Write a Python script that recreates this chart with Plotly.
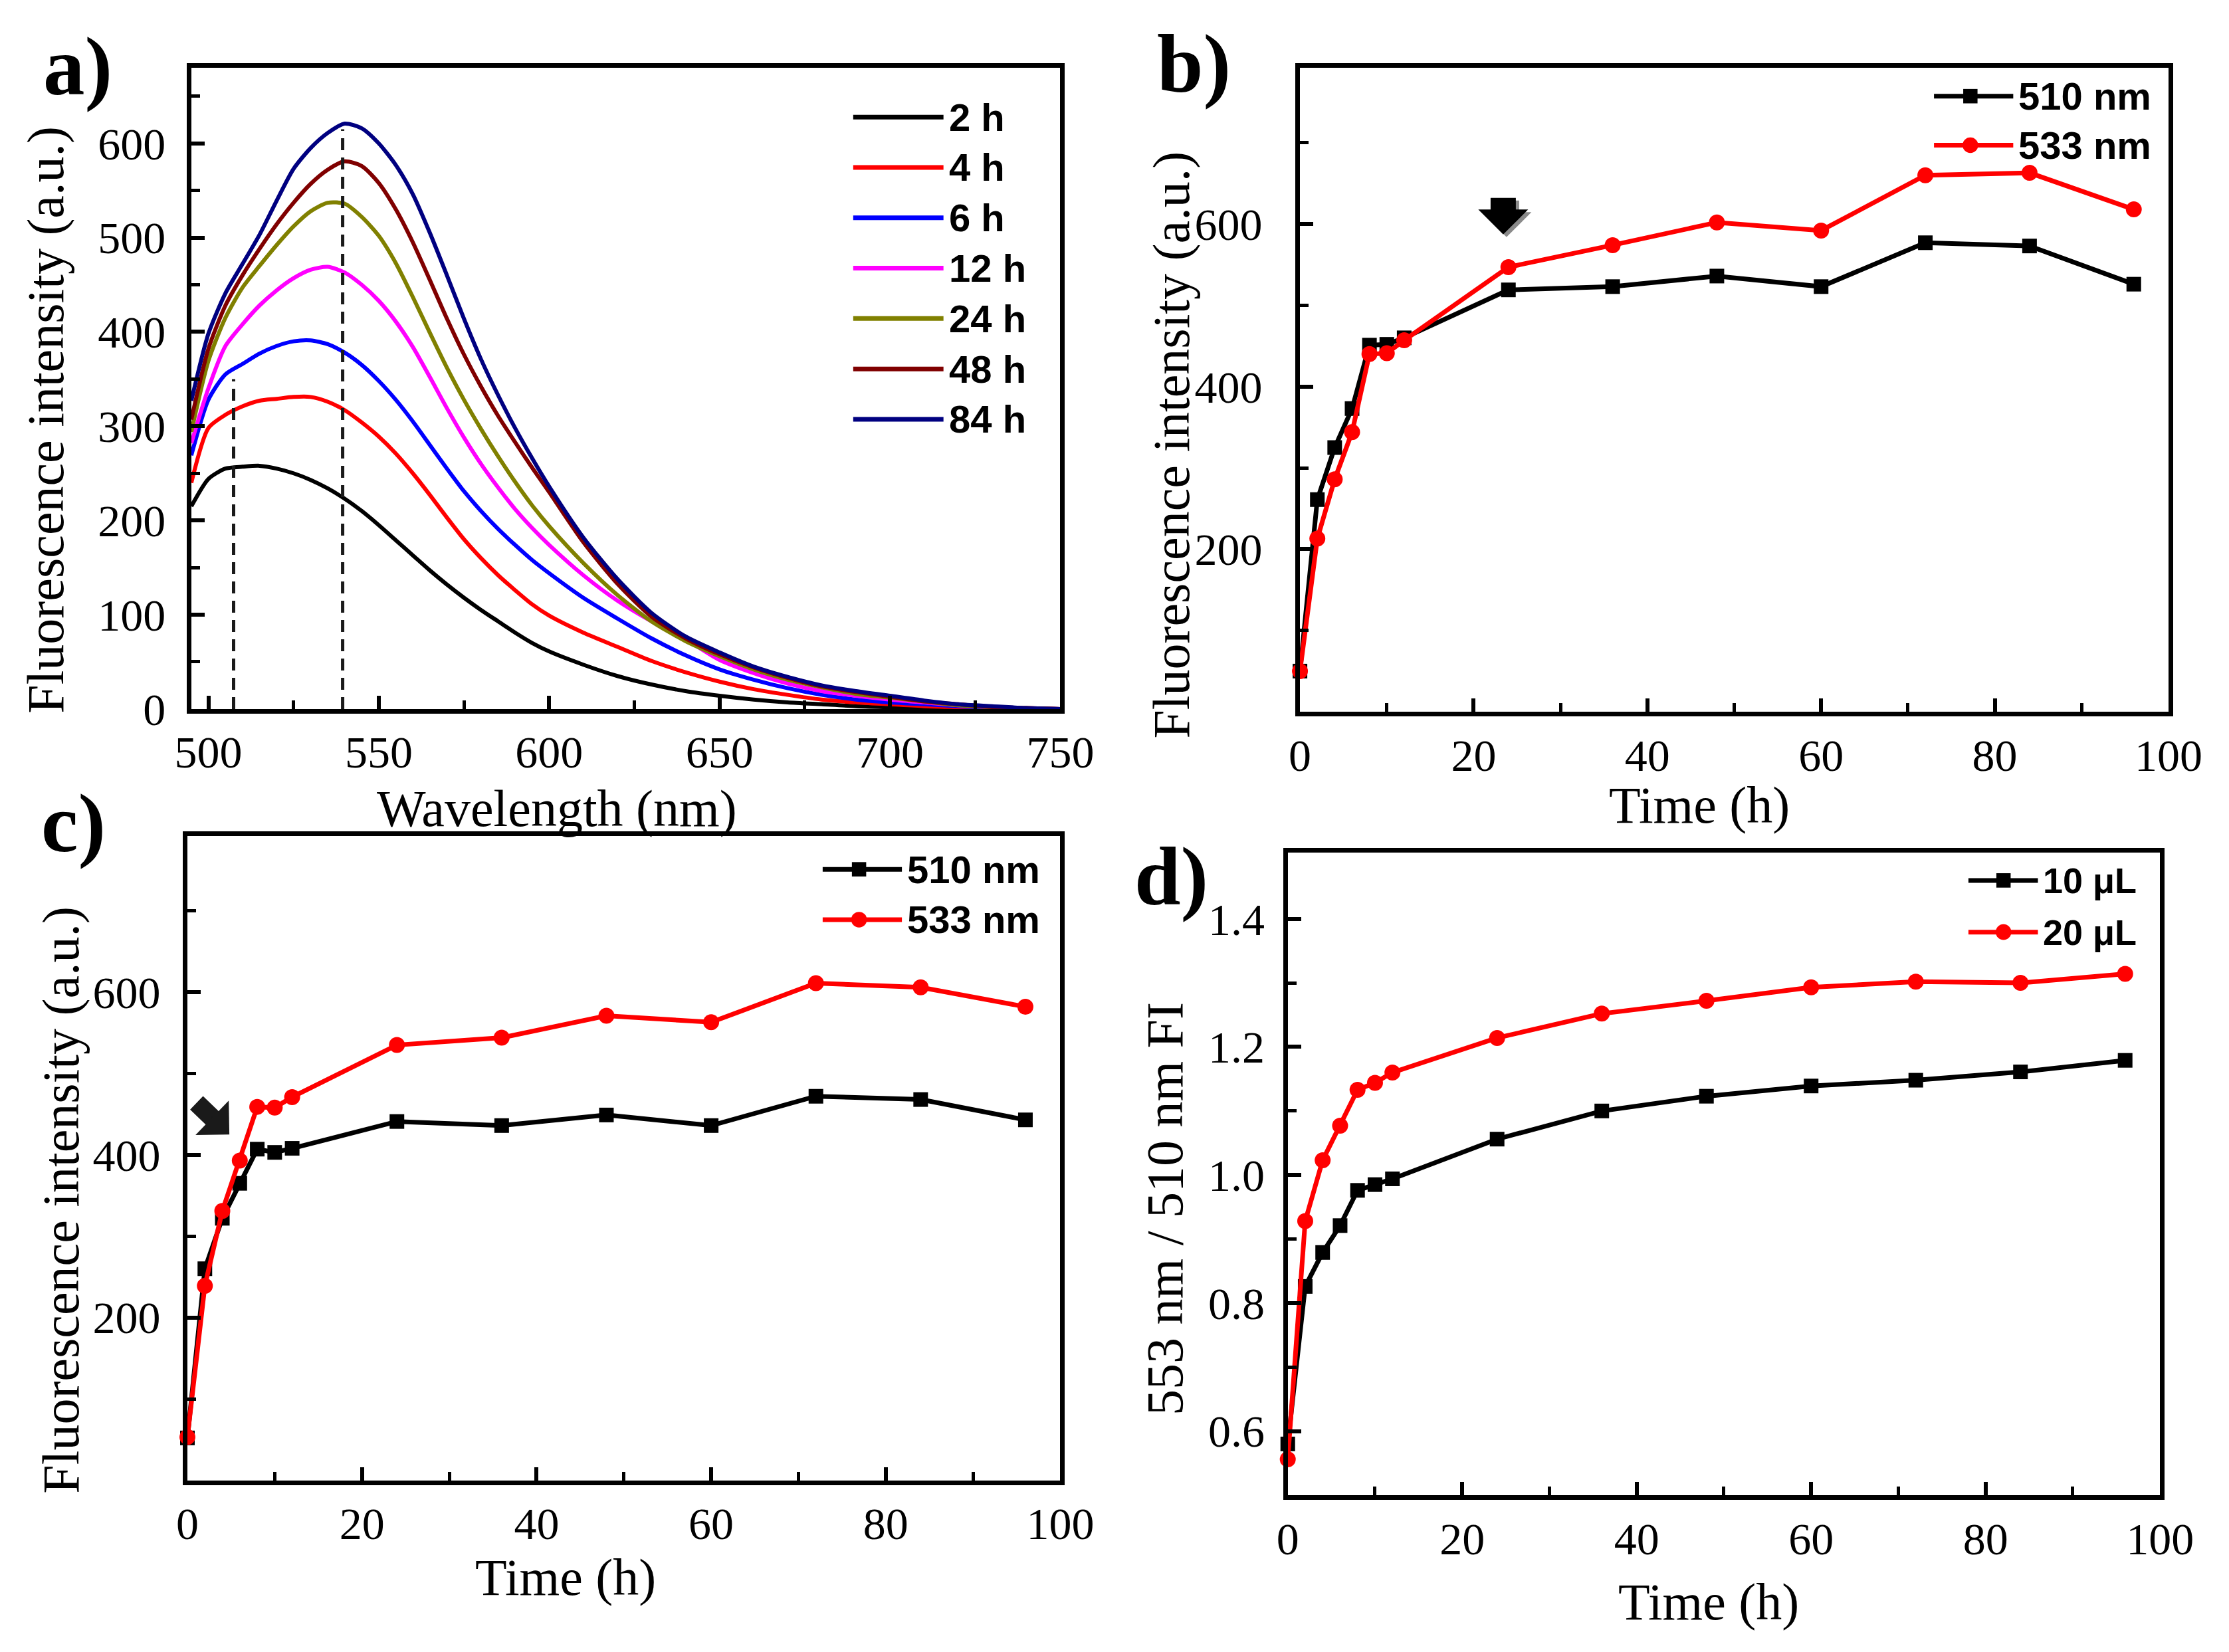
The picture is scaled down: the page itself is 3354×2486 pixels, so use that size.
import plotly.graph_objects as go

W, H = 3354, 2486

# ---------------- Panel a: emission spectra ----------------
WAVELENGTH = [495, 500, 505, 510, 515, 520, 525, 530, 535, 540, 545, 550, 555, 560, 565, 570,
              575, 580, 585, 590, 595, 600, 610, 620, 630, 640, 650, 660, 670, 680, 690, 700,
              710, 720, 730, 740, 750]
FI_2H = [215, 244, 255, 257, 258, 255, 250, 243, 234, 223, 210, 195, 179, 163, 147, 132,
         118, 105, 93, 81, 70, 61, 47, 35, 26, 19, 14, 10, 7, 5, 3, 2, 1.5, 1, 0.5, 0.2, 0]
FI_4H = [240, 298, 312, 321, 327, 329, 331, 331, 326, 317, 304, 289, 271, 250, 227, 203,
         180, 160, 142, 126, 111, 99, 81, 66, 51, 39, 29, 21, 15, 10, 7, 5, 3, 2, 1, 0.5, 0]
FI_6H = [269, 328, 355, 366, 377, 385, 390, 391, 387, 378, 365, 348, 328, 305, 280, 255,
         231, 210, 191, 174, 158, 144, 118, 96, 75, 57, 42, 31, 22, 15, 10, 7, 5, 3, 1, 0.5, 0]
FI_12H = [282, 340, 385, 408, 428, 444, 457, 466, 469, 463, 450, 433, 411, 384, 352, 319,
          288, 260, 235, 212, 192, 174, 142, 115, 93, 74, 52, 38, 27, 19, 14, 10, 7, 4, 2, 1, 0]
FI_24H = [294, 369, 415, 447, 470, 492, 512, 528, 537, 536, 522, 502, 473, 437, 399, 362,
          328, 297, 268, 241, 216, 194, 155, 121, 93, 72, 56, 42, 31, 23, 16, 12, 8, 4, 2, 1, 0]
FI_48H = [307, 382, 428, 460, 488, 514, 537, 557, 572, 581, 576, 558, 530, 495, 455, 414,
          376, 342, 311, 283, 256, 230, 177, 133, 98, 75, 58, 44, 33, 24, 18, 13, 8, 5, 2, 1, 0]
FI_84H = [327, 398, 441, 472, 503, 539, 573, 595, 611, 621, 616, 600, 577, 546, 505, 460,
          414, 371, 333, 298, 266, 236, 182, 138, 102, 77, 60, 45, 34, 25, 19, 14, 9, 5, 3, 1, 0]
SPECTRA = [FI_2H, FI_4H, FI_6H, FI_12H, FI_24H, FI_48H, FI_84H]
SPECTRA_NAMES = ["2 h", "4 h", "6 h", "12 h", "24 h", "48 h", "84 h"]
SPECTRA_COLORS = ["#000000", "#FF0000", "#0000FF", "#FF00FF", "#808000", "#800000", "#000080"]
PEAK_WL = [507.4, 539.4]
PEAK_TOP = [350, 615]

# ---------------- Panels b, c, d: time courses ----------------
TIME_H = [0, 2, 4, 6, 8, 10, 12, 24, 36, 48, 60, 72, 84, 96]
B_510NM = [50, 261, 325, 373, 451, 452, 460, 519, 523, 536, 523, 577, 573, 526]
B_533NM = [50, 213, 286, 344, 440, 441, 457, 547, 574, 602, 592, 660, 663, 618]
C_510NM = [52, 260, 322, 365, 407, 403, 408, 441, 436, 449, 436, 472, 468, 443]
C_533NM = [53, 239, 331, 393, 459, 458, 471, 535, 544, 571, 563, 611, 606, 582]
D_10UL = [0.58, 0.826, 0.879, 0.921, 0.976, 0.985, 0.994, 1.056, 1.100, 1.123, 1.139, 1.148, 1.161, 1.179]
D_20UL = [0.556, 0.928, 1.023, 1.077, 1.133, 1.144, 1.160, 1.214, 1.252, 1.272, 1.293, 1.302, 1.300, 1.314]
BC_NAMES = ["510 nm", "533 nm"]
D_NAMES = ["10 μL", "20 μL"]
D_TICKS = [0.6, 0.8, 1.0, 1.2, 1.4]

SERIF = "Liberation Serif"
SANS = "Liberation Sans"

fig = go.Figure()

# panel a curves
for vals, name, col in zip(SPECTRA, SPECTRA_NAMES, SPECTRA_COLORS):
    fig.add_trace(go.Scatter(x=WAVELENGTH, y=vals, mode="lines", name=name,
                             line=dict(color=col, width=6, shape="spline", smoothing=0.7),
                             xaxis="x", yaxis="y", showlegend=False))
for wl, top in zip(PEAK_WL, PEAK_TOP):
    fig.add_trace(go.Scatter(x=[wl, wl], y=[0, top], mode="lines",
                             line=dict(color="#1a1a1a", width=5, dash="18px,11px"),
                             xaxis="x", yaxis="y", showlegend=False, hoverinfo="skip"))
    fig.add_annotation(x=wl, y=top, xref="x", yref="y", ax=0, ay=14, text="", showarrow=True,
                       arrowhead=5, arrowsize=2.2, arrowwidth=3, arrowcolor="#1a1a1a", standoff=4)


def series(x, y, color, symbol, size, ax, name):
    fig.add_trace(go.Scatter(x=x, y=y, mode="lines+markers", name=name,
                             line=dict(color=color, width=7),
                             marker=dict(symbol=symbol, size=size, color=color),
                             xaxis="x" + ax, yaxis="y" + ax, showlegend=False, cliponaxis=False))


series(TIME_H, B_510NM, "#000000", "square", 22, "2", BC_NAMES[0])
series(TIME_H, B_533NM, "#FF0000", "circle", 24, "2", BC_NAMES[1])
series(TIME_H, C_510NM, "#000000", "square", 22, "3", BC_NAMES[0])
series(TIME_H, C_533NM, "#FF0000", "circle", 24, "3", BC_NAMES[1])
series(TIME_H, D_10UL, "#000000", "square", 22, "4", D_NAMES[0])
series(TIME_H, D_20UL, "#FF0000", "circle", 24, "4", D_NAMES[1])


# block arrows (annotations)
def block_arrow(x, y, xr, yr, dx, dy, shaft_w, head_scale, color, xshift=0, yshift=0):
    fig.add_annotation(x=x, y=y, xref=xr, yref=yr, ax=dx, ay=dy, text="", showarrow=True,
                       arrowhead=0, arrowwidth=shaft_w, arrowcolor=color,
                       standoff=2.4 * head_scale, xshift=xshift, yshift=yshift)
    fig.add_annotation(x=x, y=y, xref=xr, yref=yr, ax=dx * 0.6, ay=dy * 0.6, text="",
                       showarrow=True, arrowhead=1, arrowwidth=2, arrowsize=head_scale / 2,
                       arrowcolor=color, standoff=0.6 * head_scale, xshift=xshift, yshift=yshift)


block_arrow(23.4, 581, "x2", "y2", 0, -64, 38, 12.5, "#8a8a8a", xshift=5, yshift=-4)
block_arrow(23.4, 581, "x2", "y2", 0, -64, 38, 12.5, "#000000")
block_arrow(5.2, 421, "x3", "y3", -56, -54, 28, 12, "#1a1a1a")


# ---------------- axes ----------------
def ax_style(rng, domain, anchor, **kw):
    d = dict(range=rng, domain=domain, anchor=anchor, showline=True, linewidth=7,
             linecolor="black", mirror=True, ticks="inside", ticklen=20, tickwidth=6,
             tickcolor="black", showgrid=False, zeroline=False, ticklabelstandoff=0,
             tickfont=dict(family=SERIF, size=68, color="black"))
    d.update(kw)
    return d


def minor_dt(dt):
    return dict(ticks="inside", ticklen=13, tickwidth=5, tickcolor="black", dtick=dt, showgrid=False)


def minor_vals(vals):
    return dict(ticks="inside", ticklen=13, tickwidth=5, tickcolor="black",
                tickmode="array", tickvals=vals, showgrid=False)


fig.update_layout(
    width=W, height=H, margin=dict(l=0, r=0, t=0, b=0),
    paper_bgcolor="white", plot_bgcolor="white", showlegend=False,
    xaxis=ax_style([495, 750], [0.0802, 0.4791], "y", dtick=50, minor=minor_dt(25)),
    yaxis=ax_style([0, 680], [0.5640, 0.9582], "x", dtick=100, minor=minor_dt(50), ticklabelstandoff=18),
    xaxis2=ax_style([0, 100], [0.5891, 0.9878], "y2", dtick=20, minor=minor_dt(10)),
    yaxis2=ax_style([0, 792], [0.5623, 0.9582], "x2", tickmode="array", tickvals=[200, 400, 600],
                    ticklabelstandoff=36, minor=minor_vals([100, 300, 500, 700])),
    xaxis3=ax_style([0, 100], [0.0784, 0.4791], "y3", dtick=20, minor=minor_dt(10)),
    yaxis3=ax_style([0, 792], [0.0897, 0.4859], "x3", tickmode="array", tickvals=[200, 400, 600],
                    ticklabelstandoff=20, minor=minor_vals([100, 300, 500, 700])),
    xaxis4=ax_style([0, 100], [0.5835, 0.9839], "y4", dtick=20, minor=minor_dt(10)),
    yaxis4=ax_style([0.5, 1.503], [0.0805, 0.4755], "x4", tickmode="array", tickvals=D_TICKS,
                    ticktext=[f"{v:.1f}" for v in D_TICKS], ticklabelstandoff=14,
                    minor=minor_vals([0.7, 0.9, 1.1, 1.3])),
)


# ---------------- text: titles, panel labels ----------------
def text(x, y, s, size, family=SERIF, angle=0, bold=False, xanchor="center"):
    fig.add_annotation(x=x, y=y, xref="paper", yref="paper", text=f"<b>{s}</b>" if bold else s,
                       showarrow=False, textangle=angle, xanchor=xanchor, yanchor="middle",
                       font=dict(family=family, size=size, color="black"))


YT = "Fluorescence intensity (a.u.)"
text(0.0134, 0.7418, YT, 78, angle=-90)
text(0.5300, 0.7265, YT, 78, angle=-90)
text(0.0203, 0.2619, YT, 78, angle=-90)
text(0.5268, 0.2566, "553 nm / 510 nm FI", 78, angle=-90)
text(0.2481, 0.5030, "Wavelength (nm)", 78)
text(0.7723, 0.5050, "Time (h)", 78)
text(0.2519, 0.0300, "Time (h)", 78)
text(0.7768, 0.0150, "Time (h)", 78)
for lab, x, y in [("a)", 0.0280, 0.9590), ("b)", 0.5405, 0.9606), ("c)", 0.0262, 0.4936), ("d)", 0.5300, 0.4610)]:
    text(x, y, lab, 125, bold=True)

# ---------------- legends (drawn manually to match long sample lines) ----------------
shapes = []


def legend_entry(x0, x1, mx, y, color, symbol, label, fsize, msize=22):
    yy = 1 - y / H
    shapes.append(dict(type="line", xref="paper", yref="paper", x0=x0 / W, x1=x1 / W, y0=yy, y1=yy,
                       line=dict(color=color, width=7)))
    if symbol:
        shapes.append(dict(type=symbol, xref="paper", yref="paper",
                           x0=(mx - msize / 2) / W, x1=(mx + msize / 2) / W,
                           y0=1 - (y + msize / 2) / H, y1=1 - (y - msize / 2) / H,
                           fillcolor=color, line=dict(width=0)))
    text((x1 + 6) / W, yy, label, fsize, family=SANS, bold=True, xanchor="left")


for i, (name, col) in enumerate(zip(SPECTRA_NAMES, SPECTRA_COLORS)):
    legend_entry(1288, 1427, None, 179 + i * 77, col, None, name, 58)
for i, (name, col, sym) in enumerate(zip(BC_NAMES, ["#000000", "#FF0000"], ["rect", "circle"])):
    ms = 22 if sym == "rect" else 24
    legend_entry(2952, 3074, 3008, 147 + i * 75, col, sym, name, 58, ms)
    legend_entry(1241, 1363, 1297, 1329 + i * 77, col, sym, name, 58, ms)
for i, (name, col, sym) in enumerate(zip(D_NAMES, ["#000000", "#FF0000"], ["rect", "circle"])):
    ms = 22 if sym == "rect" else 24
    legend_entry(3005, 3112, 3059, 1346 + i * 79, col, sym, name, 54, ms)

fig.update_layout(shapes=shapes)

fig.write_html("out.html", config={"displayModeBar": False},
               post_script="document.body.style.margin='0';")
